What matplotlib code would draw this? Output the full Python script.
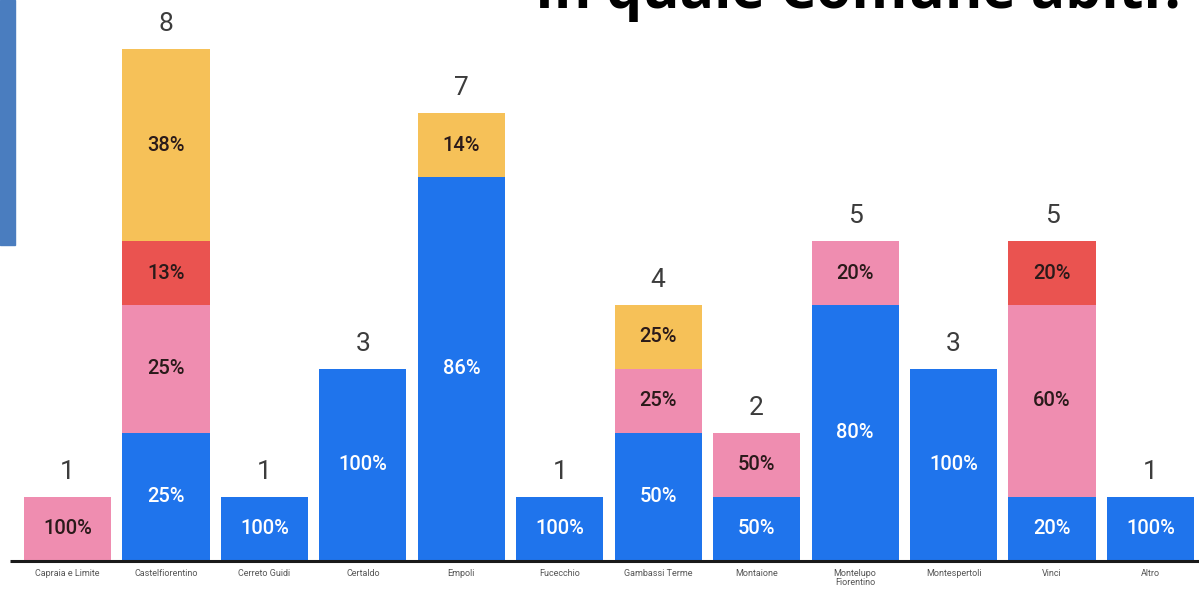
import numpy as np
import matplotlib.pyplot as plt
from matplotlib.patches import Rectangle

# ---------------- DATA ----------------
comuni = ["Capraia e Limite", "Castelfiorentino", "Cerreto Guidi", "Certaldo",
          "Empoli", "Fucecchio", "Gambassi Terme", "Montaione",
          "Montelupo\nFiorentino", "Montespertoli", "Vinci", "Altro"]
blu = [0, 2, 1, 3, 6, 1, 2, 1, 4, 3, 1, 1]
rosa = [1, 2, 0, 0, 0, 0, 1, 1, 1, 0, 3, 0]
rosso = [0, 1, 0, 0, 0, 0, 0, 0, 0, 0, 1, 0]
giallo = [0, 3, 0, 0, 1, 0, 1, 0, 0, 0, 0, 0]

series = [blu, rosa, rosso, giallo]
colors = ["#1f74ec", "#ef8db0", "#ea5350", "#f6c158"]
text_colors = ["white", "#2a1a1a", "#2a1a1a", "#2a1a1a"]

W, H = 1199, 590
fig = plt.figure(figsize=(W / 100, H / 100), dpi=100)
base_px = 561
unit_px = 64
ax = fig.add_axes([0, (H - base_px) / H, 1, base_px / H])
ax.set_ylim(0, base_px / unit_px)
step = 98.45
ax.set_xlim(-67.5 / step, 11 + (W - 1150.5) / step)
ax.axis("off")

x = np.arange(len(comuni))
totals = np.sum(series, axis=0)
bottom = np.zeros(len(comuni))
for vals, col, tcol in zip(series, colors, text_colors):
    vals = np.array(vals, dtype=float)
    ax.bar(x, vals, bottom=bottom, width=0.885, color=col, linewidth=0)
    for i, v in enumerate(vals):
        if v > 0:
            pct = int(100 * v / totals[i] + 0.5)
            ax.text(x[i], bottom[i] + v / 2, f"{pct}%", ha="center", va="center",
                    fontsize=14.5, color=tcol, family="Roboto", fontweight="medium")
    bottom += vals

for i, t in enumerate(totals):
    ax.text(x[i], t + 0.2, str(t), ha="center", va="bottom",
            fontsize=19, color="#3c3c3c", family="Roboto")

# baseline
ax.plot([10 / W, 1], [0, 0], transform=ax.transAxes, color="#1a1a1a",
        lw=2.2, clip_on=False, solid_capstyle="butt")

for i, name in enumerate(comuni):
    ax.text(x[i], -0.12, name, ha="center", va="top", fontsize=6.5,
            color="#555555", family="Roboto", linespacing=1.1)

# slide decoration + cropped title
fig.patches.append(Rectangle((0, 1 - 245 / H), 15 / W, 245 / H,
                             transform=fig.transFigure, color="#4a7dbf"))
fig.text(535 / W, 1 - 8 / H, "In quale Comune abiti?", ha="left", va="baseline",
         fontsize=41, fontweight="bold", family="Open Sans", color="black")

fig.savefig("out.png", dpi=100)
